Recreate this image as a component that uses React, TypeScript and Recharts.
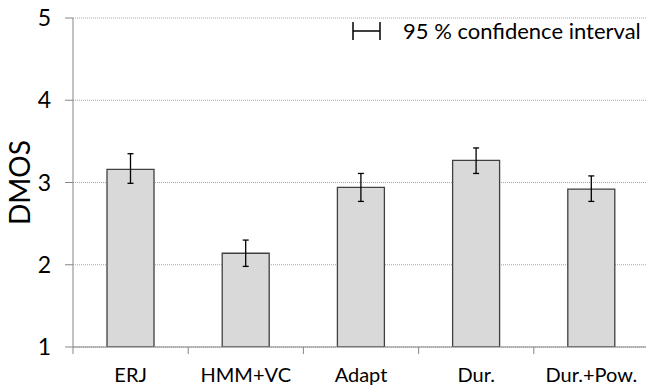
import React from "react";
import {
  BarChart,
  Bar,
  XAxis,
  YAxis,
  CartesianGrid,
  ErrorBar,
} from "recharts";

// DMOS per method, with the 95 % confidence bounds
const methods = ["ERJ", "HMM+VC", "Adapt", "Dur.", "Dur.+Pow."];
const dmos = [3.16, 2.14, 2.94, 3.27, 2.92];
const ciLower = [2.99, 1.98, 2.77, 3.11, 2.77];
const ciUpper = [3.35, 2.3, 3.11, 3.42, 3.08];
const yTicks = [1, 2, 3, 4, 5];

const W = 652;
const H = 389;
const TOP = 18;
const LEFT = 73;
const RIGHT = 3;
const X_AXIS_H = 42;
const AXIS_Y = H - X_AXIS_H;
const BAND = (W - LEFT - RIGHT) / methods.length;

const AXIS = "#868686";
const GRID = "#a6a6a6";
const BAR_FILL = "#d9d9d9";
const BAR_EDGE = "#404040";
const FONT = "Lato, 'Open Sans', sans-serif";

const data = methods.map((m, i) => ({
  method: m,
  dmos: dmos[i],
  ci: [dmos[i] - ciLower[i], ciUpper[i] - dmos[i]],
}));

// category ticks sit on the band edges, labels in the band middle
function XTick(props: any) {
  const { x, payload, index } = props;
  const left = x - BAND / 2;
  return (
    <g>
      <line x1={left} x2={left} y1={AXIS_Y} y2={AXIS_Y + 7} stroke={AXIS} strokeWidth={1} />
      {index === methods.length - 1 && (
        <line x1={left + BAND} x2={left + BAND} y1={AXIS_Y} y2={AXIS_Y + 7} stroke={AXIS} strokeWidth={1} />
      )}
      <text x={x} y={AXIS_Y + 35} textAnchor="middle" fontSize={20} fontFamily={FONT} fill="#000">
        {payload.value}
      </text>
    </g>
  );
}

export default function App() {
  return (
    <div style={{ position: "absolute", left: 0, top: 0, width: 646, height: 389, overflow: "hidden", background: "#fff" }}>
      <BarChart
        width={W}
        height={H}
        data={data}
        margin={{ top: TOP, right: RIGHT, left: 0, bottom: 0 }}
        barSize={47}
      >
        <CartesianGrid vertical={false} stroke={GRID} strokeDasharray="1 1" />
        <XAxis
          dataKey="method"
          height={X_AXIS_H}
          stroke={AXIS}
          tickLine={false}
          tick={<XTick />}
          interval={0}
        />
        <YAxis
          width={LEFT}
          domain={[1, 5]}
          ticks={yTicks}
          allowDataOverflow
          stroke={AXIS}
          tickSize={8}
          tickMargin={14}
          tick={{ fontSize: 23, fill: "#000", fontFamily: FONT }}
          label={{
            content: () => (
              <text
                x={19}
                y={TOP + (AXIS_Y - TOP) / 2}
                transform={`rotate(-90, 19, ${TOP + (AXIS_Y - TOP) / 2})`}
                textAnchor="middle"
                dominantBaseline="central"
                fontSize={28}
                fontFamily={FONT}
                fill="#000"
              >
                DMOS
              </text>
            ),
          }}
        />
        <Bar
          dataKey="dmos"
          fill={BAR_FILL}
          stroke={BAR_EDGE}
          strokeWidth={1.3}
          isAnimationActive={false}
        >
          <ErrorBar dataKey="ci" width={3} stroke="#000" strokeWidth={1.3} isAnimationActive={false} />
        </Bar>
      </BarChart>
      <div style={{ position: "absolute", left: 352, top: 20, display: "flex", alignItems: "center", fontFamily: FONT, fontSize: 22 }}>
        <svg width={29} height={18} style={{ display: "block" }}>
          <line x1={1} x2={1} y1={0} y2={18} stroke="#000" strokeWidth={1.5} />
          <line x1={1} x2={28} y1={9} y2={9} stroke="#000" strokeWidth={1.5} />
          <line x1={28} x2={28} y1={0} y2={18} stroke="#000" strokeWidth={1.5} />
        </svg>
        <span style={{ marginLeft: 22, lineHeight: "22px" }}>95 % confidence interval</span>
      </div>
    </div>
  );
}
